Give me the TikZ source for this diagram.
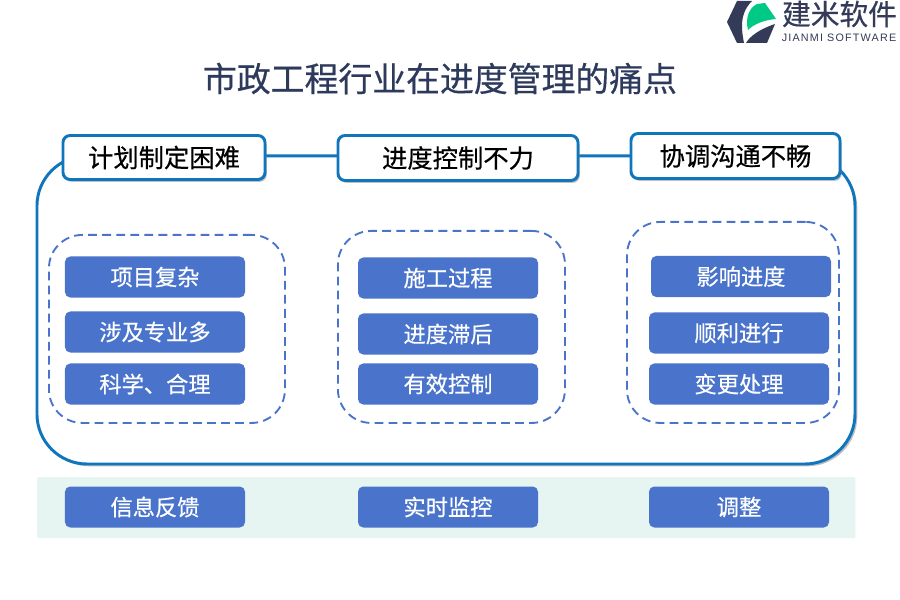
\documentclass[tikz,border=0pt]{standalone}
\usepackage{fontspec}
\usetikzlibrary{shadows}
\setmainfont[FakeBold=0.5]{Noto Sans CJK SC}
\newfontfamily\latinfont[LetterSpace=11]{Liberation Sans}
\definecolor{jmBlueLine}{HTML}{0F75BC}
\definecolor{jmBlueBox}{HTML}{4A74CB}
\definecolor{jmDash}{HTML}{4A74CB}
\definecolor{jmBandBg}{HTML}{E6F5F2}
\definecolor{jmNavy}{HTML}{333B58}
\definecolor{jmGreen}{HTML}{00C986}
\definecolor{jmTitle}{HTML}{2E3A5C}
\tikzset{
  x=0.03cm, y=-0.03cm,
  frame box/.style={
    rectangle, rounded corners=1.5cm,
    draw=jmBlueLine, line width=2.5pt, fill=white,
    drop shadow={shadow xshift=2pt, shadow yshift=-2pt, opacity=0.5},
    anchor=north west, inner sep=0pt,
  },
  head box/.style={
    rectangle, rounded corners=6pt,
    draw=jmBlueLine, line width=2.5pt, fill=white, text=black,
    drop shadow={shadow xshift=1.5pt, shadow yshift=-2pt, opacity=0.5},
    inner sep=0pt, font=\fontsize{21.6}{21.6}\selectfont,
  },
  group box/.style={
    rectangle, rounded corners=1cm,
    draw=jmDash, line width=1.6pt, dash pattern=on 7.5pt off 4.5pt,
    anchor=north west, inner sep=0pt,
  },
  item box/.style={
    rectangle, rounded corners=4.5pt,
    fill=jmBlueBox, text=white,
    minimum width=5.4cm, minimum height=1.23cm,
    inner sep=0pt, font=\fontsize{19}{19}\selectfont,
  },
}
\begin{document}
\begin{tikzpicture}
\useasboundingbox (0,0) rectangle (900,600);
\fill[white] (0,0) rectangle (900,600);

% logo
\fill[jmNavy] (727,22) -- (737,1) -- (752,1) .. controls (745,8) and (742,16) .. (742,26) .. controls (742,32) and (743,38) .. (744,43) -- (737,43) -- cycle;
\fill[jmNavy] (746,43) .. controls (750,36) and (760,29) .. (775,24) -- (767,43) -- cycle;
\fill[jmGreen] (748,30) .. controls (745,18) and (749,8) .. (757,4) -- (765,3) -- (776,19) .. controls (764,20) and (754,24) .. (748,30) -- cycle;
\node[text=jmNavy, font=\fontsize{24.5}{24.5}\selectfont] (logoname) at (839.5,14) {建米软件};
\node[text=jmNavy, font=\latinfont\fontsize{9.2}{9.2}\selectfont] (logosub) at (839,38) {JIANMI SOFTWARE};

% title
\node[text=jmTitle, font=\fontsize{28.9}{28.9}\selectfont] (title) at (440,78.5) {市政工程行业在进度管理的痛点};

% outer frame and bottom band
\node[frame box, minimum width=24.54cm, minimum height=9.24cm] (frame) at (35.5,154.5) {};
\node[rectangle, fill=jmBandBg, rounded corners=1pt, anchor=north west, inner sep=0pt,
      minimum width=24.54cm, minimum height=1.83cm] (band) at (37,477) {};

% heads
\node[head box, minimum width=6.06cm, minimum height=1.32cm] (headA) at (164,157.5) {计划制定困难};
\node[head box, minimum width=7.2cm, minimum height=1.35cm] (headB) at (458,158) {进度控制不力};
\node[head box, minimum width=6.27cm, minimum height=1.35cm] (headC) at (735.5,156) {协调沟通不畅};

% dashed groups
\node[group box, minimum width=7.08cm, minimum height=5.64cm] (groupA) at (48,234) {};
\node[group box, minimum width=6.81cm, minimum height=5.76cm] (groupB) at (337,230) {};
\node[group box, minimum width=6.36cm, minimum height=6.03cm] (groupC) at (626,221) {};

% items
\node[item box] (itemA1) at (155,277) {项目复杂};
\node[item box] (itemA2) at (155,332) {涉及专业多};
\node[item box] (itemA3) at (155,384) {科学、合理};
\node[item box] (itemB1) at (448,278) {施工过程};
\node[item box] (itemB2) at (448,334) {进度滞后};
\node[item box] (itemB3) at (448,384) {有效控制};
\node[item box] (itemC1) at (741,276.5) {影响进度};
\node[item box] (itemC2) at (739,333) {顺利进行};
\node[item box] (itemC3) at (739,384) {变更处理};

% bottom row
\node[item box] (itemD1) at (155,507) {信息反馈};
\node[item box] (itemD2) at (448,507) {实时监控};
\node[item box] (itemD3) at (739,507) {调整};

\end{tikzpicture}
\end{document}
